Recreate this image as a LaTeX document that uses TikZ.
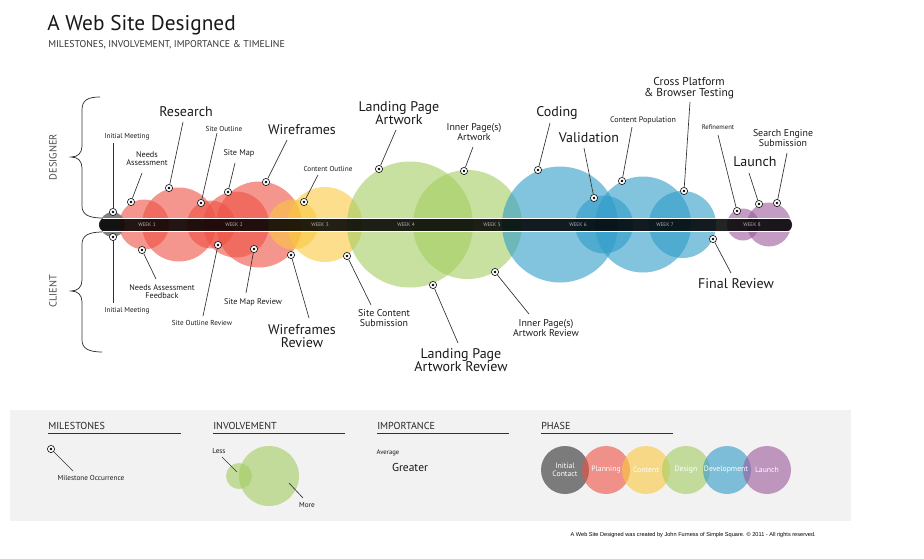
\documentclass[tikz,border=0pt]{standalone}
\usepackage{fontspec}
\setmainfont{PT Sans}
\newfontfamily\footfont{Liberation Sans}
\definecolor{cred}{RGB}{237,80,67}
\definecolor{cyel}{RGB}{250,200,63}
\definecolor{cgrn}{RGB}{163,205,97}
\definecolor{cblu}{RGB}{47,155,200}
\definecolor{cpur}{RGB}{155,88,155}
\definecolor{cgry}{RGB}{45,45,45}
\definecolor{txt}{RGB}{25,25,25}
\definecolor{lin}{RGB}{50,50,50}
\definecolor{legbg}{RGB}{242,242,242}
\newcommand{\ml}[6]{%
  \node[mk] (#1m) at (#2) {};
  \coordinate (#1e) at (#3);
  \node[#5] (#1l) at (#4) {#6};
  \draw[conn] (#1m) -- (#1e);
}
\begin{document}
\begin{tikzpicture}[x=0.75pt,y=-0.75pt,
  bub/.style={fill opacity=0.6},
  mk/.style={circle, draw=black!90, line width=0.5pt, fill=white, minimum size=5.4pt, inner sep=0pt,
    path picture={\fill[black] (path picture bounding box.center) circle (1.1pt);}},
  conn/.style={draw=lin, line width=0.5pt},
  lab/.style={inner sep=0pt, align=center, text=txt},
  big/.style={lab, font=\fontsize{10.5}{10.2}\selectfont},
  bigm/.style={lab, font=\fontsize{8.6}{8.3}\selectfont},
  mida/.style={lab, font=\fontsize{6.2}{6.1}\selectfont},
  midb/.style={lab, font=\fontsize{7.4}{7.5}\selectfont},
  sml/.style={lab, font=\fontsize{5.4}{5.8}\selectfont},
  tny/.style={lab, font=\fontsize{5}{5.4}\selectfont},
  hdr/.style={inner sep=0pt, anchor=base west, text=black!85, font=\fontsize{7.6}{8}\selectfont},
  wk/.style={inner sep=0pt, text=black!30, font=\fontsize{3.9}{4}\selectfont},
  side/.style={inner sep=0pt, rotate=90, text=black!70, font=\fontsize{7.8}{8}\selectfont},
  brace/.style={draw=lin, line width=0.55pt},
  phl/.style={inner sep=0pt, align=center, text=white, font=\fontsize{5.8}{6.2}\selectfont}
]
\useasboundingbox (0,0) rectangle (924,558);

% title
\node[inner sep=0pt, anchor=base west, text=txt, font=\fontsize{16}{18}\selectfont] (title) at (47,30) {A Web Site Designed};
\node[inner sep=0pt, anchor=base west, text=black!80, font=\fontsize{7.4}{8}\selectfont] (subtitle) at (48,47) {MILESTONES, INVOLVEMENT, IMPORTANCE \& TIMELINE};

% side labels and braces
\node[side] (designer) at (53,157) {DESIGNER};
\node[side] (client) at (53,291) {CLIENT};
\draw[brace] (100,97) .. controls (88,97) and (82,100) .. (82,110) -- (82,146) .. controls (82,153) and (78,157) .. (71,157) .. controls (78,157) and (82,161) .. (82,168) -- (82,206) .. controls (82,214) and (88,218) .. (102,218);
\draw[brace] (102,232) .. controls (88,232) and (82,236) .. (82,244) -- (82,280) .. controls (82,287) and (78,291) .. (71,291) .. controls (78,291) and (82,295) .. (82,302) -- (82,340) .. controls (82,348) and (88,352) .. (102,352);

% bubbles
\fill[cgry, bub] (112.5,224.5) circle (12.5);
\fill[cred, bub] (144,224.5) circle (25);
\fill[cred, bub] (179,224.5) circle (37);
\fill[cred, bub] (211,224.5) circle (24);
\fill[cred, bub] (236,224.5) circle (33);
\fill[cred, bub] (259,224.5) circle (43);
\fill[cyel, bub] (293,224.5) circle (25);
\fill[cyel, bub] (325,224.5) circle (37.5);
\fill[cgrn, bub] (410,224.5) circle (63);
\fill[cgrn, bub] (467.5,224.5) circle (54.5);
\fill[cblu, bub] (560,224.5) circle (58);
\fill[cblu, bub] (604,224.5) circle (29);
\fill[cblu, bub] (643,224.5) circle (48);
\fill[cblu, bub] (682.5,224.5) circle (33.5);
\fill[cpur, bub] (743,224.5) circle (16);
\fill[cpur, bub] (769,224.5) circle (22);

% timeline bar
\fill[black, fill opacity=0.86, rounded corners=4.5pt] (99,218.3) rectangle (792,231.3);
\draw[white, line width=0.8pt] (103,218.3) -- (790,218.3);
\draw[white, line width=0.8pt] (103,231.3) -- (790,231.3);
\node[wk] (w1) at (147,225) {WEEK 1};
\node[wk] (w2) at (234,225) {WEEK 2};
\node[wk] (w3) at (320,225) {WEEK 3};
\node[wk] (w4) at (406,225) {WEEK 4};
\node[wk] (w5) at (492,225) {WEEK 5};
\node[wk] (w6) at (578,225) {WEEK 6};
\node[wk] (w7) at (665,225) {WEEK 7};
\node[wk] (w8) at (752,225) {WEEK 8};

% designer milestones
\ml{ima}{113,212}{113,143}{127,137}{sml}{Initial Meeting}
\ml{na}{131,202}{142,173}{147,159}{mida}{Needs\\Assessment}
\ml{rs}{169,188}{183,122}{186,112}{big}{Research}
\ml{so}{201,203}{217,133}{224,129}{sml}{Site Outline}
\ml{sm}{228,192}{235,163}{239,153}{mida}{Site Map}
\ml{wf}{266,182}{287,140}{302,130}{big}{Wireframes}
\ml{co}{304,202}{318,175}{328,169}{sml}{Content Outline}
\ml{lp}{379,169}{396,130}{399,113}{big}{Landing Page\\Artwork}
\ml{ip}{464,171}{473,147}{474,132}{midb}{Inner Page(s)\\Artwork}
\ml{cd}{538,170}{550,123}{557,113}{big}{Coding}
\ml{va}{594,198}{584,148}{589,138}{big}{Validation}
\ml{cp}{622,181}{632,127}{643,120}{lab, font=\fontsize{6}{6.4}\selectfont}{Content Population}
\ml{cb}{684,191}{690,102}{689,88}{bigm}{Cross Platform\\\& Browser Testing}
\ml{rf}{737,211}{718,135}{718,127}{tny}{Refinement}
\ml{la}{759,204}{749,173}{755,162}{big}{Launch}
\ml{se}{777,203}{787,153}{783,138}{midb}{Search Engine\\Submission}

% client milestones
\ml{imb}{113,237}{113,303}{127,311}{sml}{Initial Meeting}
\ml{naf}{142,250}{156,279}{162,292}{mida}{Needs Assessment\\Feedback}
\ml{sor}{218,245}{203,316}{202,323}{sml}{Site Outline Review}
\ml{smr}{254,249}{246,293}{253,302}{mida}{Site Map Review}
\ml{wfr}{291,255}{309,318}{302,336}{big}{Wireframes\\Review}
\ml{scs}{347,256}{371,305}{384,318}{midb}{Site Content\\Submission}
\ml{lpr}{433,285}{458,343}{461,360}{big}{Landing Page\\Artwork Review}
\ml{ipr}{495,272}{529,314}{546,328}{midb}{Inner Page(s)\\Artwork Review}
\ml{fr}{713,239}{731,273}{736,284}{big}{Final Review}

% legend
\fill[legbg] (10,410) rectangle (851,521);
\node[hdr] (hm) at (48,429) {MILESTONES};
\node[hdr] (hi) at (213,429) {INVOLVEMENT};
\node[hdr] (hp) at (377,429) {IMPORTANCE};
\node[hdr] (hf) at (541,429) {PHASE};
\draw[lin, line width=0.7pt] (48,433.5) -- (181,433.5);
\draw[lin, line width=0.7pt] (213,433.5) -- (345,433.5);
\draw[lin, line width=0.7pt] (377,433.5) -- (509,433.5);
\draw[lin, line width=0.7pt] (541,433.5) -- (673,433.5);

\ml{lgm}{51,449}{73,471}{91,478}{sml}{Milestone Occurrence}

\fill[cgrn, bub] (239,476) circle (13);
\fill[cgrn, bub] (269,476) circle (30);
\node[sml] (less) at (219,451) {Less};
\coordinate (lessa) at (222,457);
\coordinate (lessb) at (237,472);
\draw[conn] (lessa) -- (lessb);
\node[sml] (more) at (307,505) {More};
\coordinate (morea) at (289,483);
\coordinate (moreb) at (303,498);
\draw[conn] (morea) -- (moreb);

\node[tny] (avg) at (388,453) {Average};
\node[lab, font=\fontsize{8.6}{9}\selectfont] (greater) at (410,467) {Greater};

\fill[cgry, bub] (565,470) circle (24);
\fill[cred, bub] (606,470) circle (24);
\fill[cyel, bub] (646,470) circle (24);
\fill[cgrn, bub] (686,470) circle (24);
\fill[cblu, bub] (727,470) circle (24);
\fill[cpur, bub] (767,470) circle (24);
\node[phl] (p1) at (565,470) {Initial\\Contact};
\node[phl] (p2) at (606,470) {Planning};
\node[phl] (p3) at (646,470) {Content};
\node[phl] (p4) at (686,470) {Design};
\node[phl] (p5) at (726,470) {Development};
\node[phl] (p6) at (767,470) {Launch};

\node[inner sep=0pt, anchor=base east, text=black, font=\footfont\fontsize{4.2}{5}\selectfont] (foot) at (816,536) {A Web Site Designed was created by John Furness of Simple Square. \textcopyright{} 2011 - All rights reserved.};
\end{tikzpicture}
\end{document}
